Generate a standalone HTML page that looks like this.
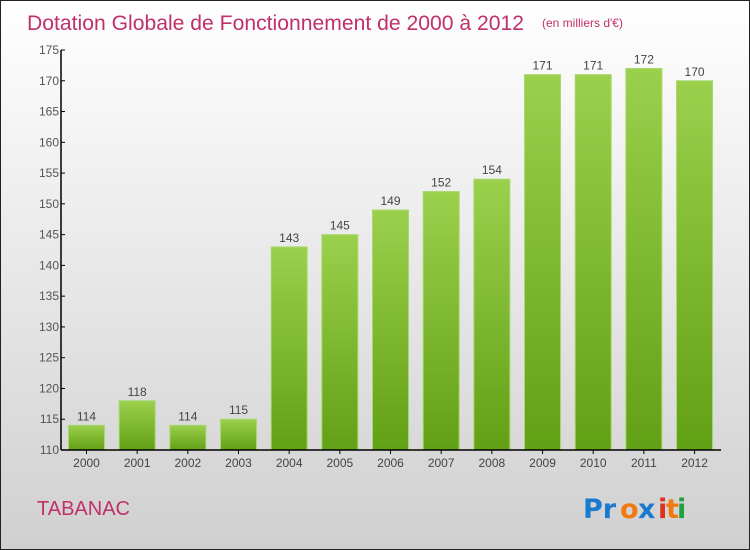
<!DOCTYPE html>
<html><head><meta charset="utf-8"><style>
body{margin:0;}
#c{width:748px;height:548px;border:1px solid #222;background:linear-gradient(#fff,#d0d0d0);position:relative;overflow:hidden;font-family:"Liberation Sans",sans-serif;}
</style></head><body>
<div id="c">
<svg id="s" width="748" height="548" style="position:absolute;left:0;top:0">
<text x="26" y="29" font-size="21" fill="#c0306a" textLength="497" lengthAdjust="spacingAndGlyphs">Dotation Globale de Fonctionnement de 2000 à 2012</text>
<text x="541" y="26" font-size="12" fill="#c0306a">(en milliers d'€)</text>
<text x="36" y="514" font-size="20" fill="#c0306a" textLength="93" lengthAdjust="spacingAndGlyphs">TABANAC</text>
<g font-size="27" font-weight="bold" font-family="'DejaVu Sans',sans-serif">
<text x="582" y="517" fill="#1a7ad0">Pr</text><text x="619" y="517" fill="#f07a10">o</text><text x="637" y="517" fill="#1a7ad0">x</text><text x="657" y="517" fill="#e03020">i</text><text x="665" y="517" fill="#f07a10">t</text><text x="676" y="517" fill="#20a040">i</text>
</g>
<defs><linearGradient id="g" x1="0" y1="0" x2="0" y2="1"><stop offset="0" stop-color="#9bd04c"/><stop offset="1" stop-color="#62a015"/></linearGradient></defs>
<g id="bars"></g>
<g id="axes"></g>
</svg>
</div>
<script>
const categories=["2000","2001","2002","2003","2004","2005","2006","2007","2008","2009","2010","2011","2012"];
const values=[114,118,114,115,143,145,149,152,154,171,171,172,170];
const yTicks=[110,115,120,125,130,135,140,145,150,155,160,165,170,175];
const NS="http://www.w3.org/2000/svg";
const y0=449,y1=49,vmin=110,vmax=175,x0=60,xEnd=720,step=50.67,first=85.5,bw=36;
const y=v=>y0-(v-vmin)/(vmax-vmin)*(y0-y1);
const x=i=>first+i*step;
function mk(t,a,p){const e=document.createElementNS(NS,t);for(const k in a)e.setAttribute(k,a[k]);p.appendChild(e);return e;}
const bars=document.getElementById('bars'),axes=document.getElementById('axes');
values.forEach((v,i)=>{
 const r=mk('rect',{x:x(i)-bw/2,y:y(v),width:bw,height:y0-y(v),fill:'url(#g)',stroke:'#a8d870','stroke-width':1},bars);
 
 
 const t=mk('text',{x:x(i),y:y(v)-5,'text-anchor':'middle','font-size':12,fill:'#444'},bars);t.textContent=v;
 
 
 const c=mk('text',{x:x(i),y:y0+17,'text-anchor':'middle','font-size':12,fill:'#444'},axes);c.textContent=categories[i];
 
 
 mk('line',{x1:x(i),x2:x(i),y1:y0,y2:y0+4,stroke:'#000'},axes);
});
yTicks.forEach(v=>{
 mk('line',{x1:x0,x2:x0+4,y1:y(v),y2:y(v),stroke:'#000'},axes);
 const t=mk('text',{x:x0-2,y:y(v)+4,'text-anchor':'end','font-size':12,fill:'#555'},axes);t.textContent=v;
 
 
});
const ya=mk('line',{x1:x0,x2:x0,y1:y1,y2:y0,stroke:'#000','stroke-width':1.5},axes);


const xa=mk('line',{x1:x0,x2:xEnd,y1:y0,y2:y0,stroke:'#000','stroke-width':1.5},axes);


</script>
</body></html>
